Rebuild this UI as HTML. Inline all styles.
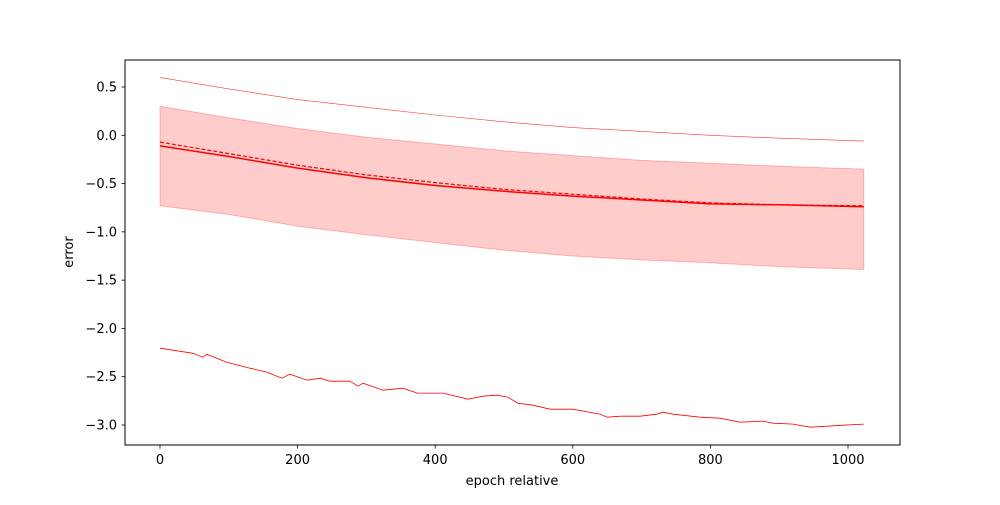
<!DOCTYPE html>
<html><head><meta charset="utf-8"><style>
body{margin:0;background:#fff;font-family:"Liberation Sans","DejaVu Sans",sans-serif;}
svg text{font-family:"DejaVu Sans","Liberation Sans",sans-serif;font-size:13px;fill:#000}
</style></head><body>
<svg id="chart" width="1000" height="500" viewBox="0 0 1000 500" xmlns="http://www.w3.org/2000/svg">
<rect x="0" y="0" width="1000" height="500" fill="#fff"/>
<g id="plot"></g>
<rect x="125" y="60" width="775" height="385" fill="none" stroke="#000" stroke-width="1"/>
<g id="xticks"></g>
<g id="yticks"></g>
<text x="512" y="485" text-anchor="middle">epoch relative</text>
<text x="73" y="252" text-anchor="middle" transform="rotate(-90 73 252)">error</text>
</svg>
<script>
const smoothEpochs=[0,100,200,300,400,500,600,700,800,900,1023];
const upperLine=[0.60,0.48,0.37,0.29,0.21,0.14,0.08,0.04,0.00,-0.03,-0.06];
const bandTop=[0.30,0.18,0.07,-0.02,-0.09,-0.16,-0.21,-0.26,-0.29,-0.32,-0.35];
const bandBottom=[-0.73,-0.82,-0.94,-1.03,-1.11,-1.19,-1.25,-1.29,-1.32,-1.36,-1.39];
const meanLine=[-0.11,-0.22,-0.34,-0.44,-0.52,-0.58,-0.63,-0.67,-0.71,-0.72,-0.74];
const dashedLine=[-0.07,-0.19,-0.31,-0.41,-0.49,-0.56,-0.61,-0.66,-0.70,-0.72,-0.73];
const lowEpochs=[0,48,62,68,97,131,156,177,189,214,233,247,276,288,295,324,353,374,411,448,469,490,506,520,542,567,600,640,650,669,698,722,731,746,785,814,843,876,891,920,945,969,993,1023];
const lowLine=[-2.205,-2.257,-2.298,-2.267,-2.350,-2.412,-2.453,-2.515,-2.474,-2.536,-2.515,-2.546,-2.546,-2.598,-2.567,-2.640,-2.619,-2.670,-2.670,-2.733,-2.702,-2.691,-2.712,-2.774,-2.795,-2.836,-2.836,-2.888,-2.919,-2.909,-2.909,-2.888,-2.867,-2.888,-2.919,-2.929,-2.971,-2.960,-2.981,-2.991,-3.023,-3.012,-3.002,-2.991];
const xTicks=[0,200,400,600,800,1000];
const yTicks=[0.5,0.0,-0.5,-1.0,-1.5,-2.0,-2.5,-3.0];
const X=v=>160+v*0.688;
const Y=v=>135.3-v*96.57;
const NS="http://www.w3.org/2000/svg";
const plot=document.getElementById('plot');
function mk(tag,attrs,parent){const e=document.createElementNS(NS,tag);for(const k in attrs)e.setAttribute(k,attrs[k]);parent.appendChild(e);return e;}
function pts(xs,ys){return xs.map((x,i)=>X(x).toFixed(1)+','+Y(ys[i]).toFixed(1));}
// band
const bp=pts(smoothEpochs,bandTop).concat(pts(smoothEpochs,bandBottom).reverse());
const band=mk('polygon',{points:bp.join(' '),fill:'#ff0000','fill-opacity':'0.2',stroke:'#ff0000','stroke-opacity':'0.25','stroke-width':'1'},plot);


const up=mk('polyline',{points:pts(smoothEpochs,upperLine).join(' '),fill:'none',stroke:'#ff0000','stroke-width':'0.6','stroke-opacity':'0.8'},plot);


const mean=mk('polyline',{points:pts(smoothEpochs,meanLine).join(' '),fill:'none',stroke:'#ff0000','stroke-width':'1.5'},plot);


const dash=mk('polyline',{points:pts(smoothEpochs,dashedLine).join(' '),fill:'none',stroke:'#ff0000','stroke-width':'1.2','stroke-dasharray':'4,2'},plot);


const low=mk('polyline',{points:pts(lowEpochs,lowLine).join(' '),fill:'none',stroke:'#ff0000','stroke-width':'0.8'},plot);


const xg=document.getElementById('xticks');
xTicks.forEach(t=>{const x=X(t);
 const l=mk('line',{x1:x,x2:x,y1:445,y2:448.5,stroke:'#000','stroke-width':'0.8'},xg);
 
 
 const tx=mk('text',{x:x,y:464,'text-anchor':'middle'},xg);tx.textContent=t;
 
 });
const yg=document.getElementById('yticks');
yTicks.forEach(t=>{const y=Y(t);
 const l=mk('line',{x1:121.5,x2:125,y1:y,y2:y,stroke:'#000','stroke-width':'0.8'},yg);
 
 
 const tx=mk('text',{x:117,y:y+4.5,'text-anchor':'end'},yg);tx.textContent=(t<0?'\u2212':'')+Math.abs(t).toFixed(1);
 
 });
</script>
</body></html>
